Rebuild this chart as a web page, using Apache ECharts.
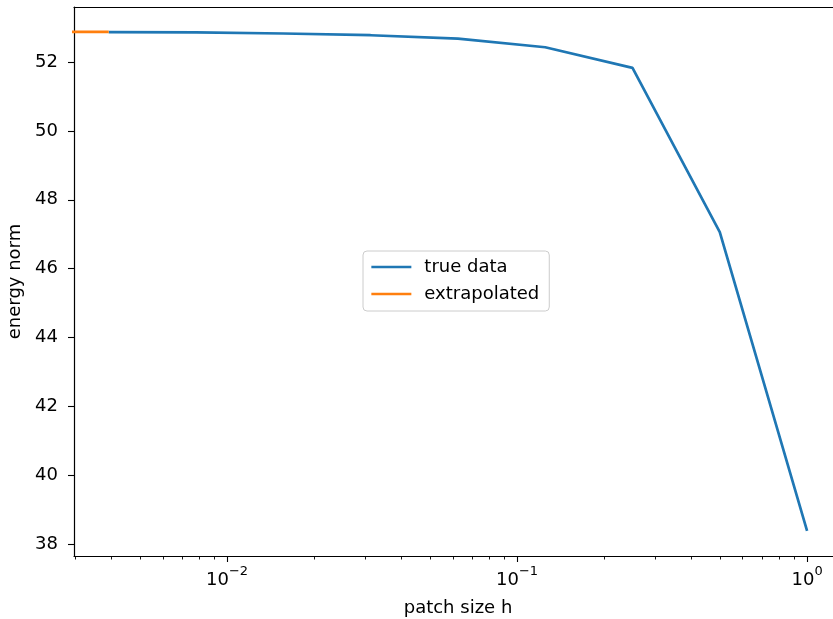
<!DOCTYPE html>
<html lang="en">
<head>
    <meta charset="UTF-8">
    <title>energy norm vs patch size</title>
    <script src="https://cdn.jsdelivr.net/npm/echarts@6/dist/echarts.min.js"></script>
    <style>
        html, body { margin: 0; padding: 0; background: #fff; }
    </style>
</head>
<body>
<div id="mybox" style="width: 833px; height: 619px;"></div>
<script>
    // data
    var hTrue = [1, 0.5, 0.25, 0.125, 0.0625, 0.03125, 0.015625, 0.0078125, 0.00390625];
    var energyTrue = [38.38, 47.06, 51.83, 52.43, 52.68, 52.78, 52.83, 52.86, 52.87];
    var hExtrap = [0.0001, 0.00390625];
    var energyExtrap = [52.88, 52.88];

    // tick values
    var xMajorTicks = [0.01, 0.1, 1];
    var xMinorTicks = [0.003, 0.004, 0.005, 0.006, 0.007, 0.008, 0.009,
        0.02, 0.03, 0.04, 0.05, 0.06, 0.07, 0.08, 0.09,
        0.2, 0.3, 0.4, 0.5, 0.6, 0.7, 0.8, 0.9];
    var yTicks = [38, 40, 42, 44, 46, 48, 50, 52];
    var xMin = 0.002965, xMax = 1.3195, yMin = 37.65, yMax = 53.60;

    function pairs(xs, ys) {
        return xs.map(function (x, i) { return [x, ys[i]]; });
    }

    var font = 'DejaVu Sans';
    var sup = {'-2': '−2', '-1': '−1', '0': '0'};

    var mychart = echarts.init(document.getElementById('mybox'));
    mychart.setOption({
        animation: false,
        textStyle: {fontFamily: font},
        // plot area runs past the right edge, like the cropped original
        grid: {
            left: 74, top: 7, right: -9, bottom: 63,
            outerBoundsMode: 'none',
            containLabel: false,
            show: false
        },
        legend: {
            orient: 'vertical',
            left: 363, top: 251,
            width: 175,
            padding: [7, 10, 8, 7],
            itemWidth: 40, itemHeight: 18, itemGap: 9,
            itemStyle: {opacity: 0},
            lineStyle: {width: 2.7},
            backgroundColor: 'rgba(255,255,255,0.8)',
            borderColor: '#cccccc', borderWidth: 1, borderRadius: 4,
            textStyle: {fontFamily: font, fontSize: 18, color: '#000', padding: [0, 0, 0, 8]},
            data: ['true data', 'extrapolated']
        },
        xAxis: [{
            type: 'log',
            logBase: 10,
            min: xMin, max: xMax,
            name: 'patch size h',
            nameLocation: 'middle',
            nameGap: 43,
            nameTextStyle: {fontFamily: font, fontSize: 18, color: '#000'},
            axisLine: {show: true, lineStyle: {color: '#000', width: 1.2}},
            axisTick: {show: true, length: 6, lineStyle: {color: '#000', width: 1.1}, customValues: xMajorTicks},
            axisLabel: {
                customValues: xMajorTicks,
                margin: 9,
                color: '#000',
                formatter: function (v) {
                    var e = Math.round(Math.log10(v));
                    return '{b|10}{s|' + sup[String(e)] + '}';
                },
                rich: {
                    b: {fontFamily: font, fontSize: 18, color: '#000', verticalAlign: 'bottom', lineHeight: 24},
                    s: {fontFamily: font, fontSize: 13, color: '#000', verticalAlign: 'top', lineHeight: 12, padding: [0, 0, 10, 0]}
                }
            },
            splitLine: {show: false},
            minorTick: {show: false},
            minorSplitLine: {show: false}
        }, {
            // minor ticks
            type: 'log',
            logBase: 10,
            min: xMin, max: xMax,
            position: 'bottom',
            gridIndex: 0,
            axisLine: {show: false},
            axisTick: {show: true, length: 3.5, lineStyle: {color: '#000', width: 0.9}, customValues: xMinorTicks},
            axisLabel: {show: false},
            splitLine: {show: false}
        }, {
            // top frame line
            type: 'log',
            logBase: 10,
            min: xMin, max: xMax,
            position: 'top',
            gridIndex: 0,
            axisLine: {show: true, lineStyle: {color: '#000', width: 1.2}},
            axisTick: {show: false},
            axisLabel: {show: false},
            splitLine: {show: false}
        }],
        yAxis: {
            type: 'value',
            min: yMin, max: yMax,
            name: 'energy norm',
            nameLocation: 'middle',
            nameGap: 45,
            nameTextStyle: {fontFamily: font, fontSize: 18, color: '#000'},
            axisLine: {show: true, lineStyle: {color: '#000', width: 1.2}},
            axisTick: {show: true, length: 6, lineStyle: {color: '#000', width: 1.1}, customValues: yTicks},
            axisLabel: {customValues: yTicks, margin: 16, fontFamily: font, fontSize: 18, color: '#000'},
            splitLine: {show: false}
        },
        series: [{
            name: 'true data',
            type: 'line',
            xAxisIndex: 0,
            data: pairs(hTrue, energyTrue),
            showSymbol: false,
            symbol: 'none',
            clip: true,
            lineStyle: {color: '#1f77b4', width: 2.7},
            itemStyle: {color: '#1f77b4'}
        }, {
            name: 'extrapolated',
            type: 'line',
            xAxisIndex: 0,
            data: pairs(hExtrap, energyExtrap),
            showSymbol: false,
            symbol: 'none',
            clip: true,
            lineStyle: {color: '#ff7f0e', width: 2.7},
            itemStyle: {color: '#ff7f0e'}
        }]
    });
</script>
</body>
</html>
